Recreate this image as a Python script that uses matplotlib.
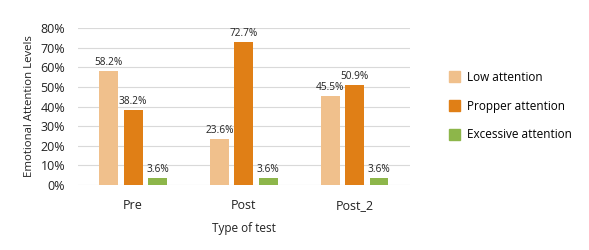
import numpy as np
from matplotlib import pyplot as plt
from matplotlib.patches import Patch

plt.rcParams['font.family'] = ['Open Sans', 'DejaVu Sans']

categories = ['Pre', 'Post', 'Post_2']
series_names = ['Low attention', 'Propper attention', 'Excessive attention']
low = [58.2, 23.6, 45.5]
proper = [38.2, 72.7, 50.9]
excessive = [3.6, 3.6, 3.6]
colors = ['#F0C08C', '#E07F16', '#8DB64A']

fig = plt.figure(figsize=(5.89, 2.5), dpi=100)
ax = fig.add_axes([0.132, 0.26, 0.564, 0.628])

x = np.arange(len(categories))
width = 0.17
offset = 0.22
for i, (vals, name) in enumerate(zip([low, proper, excessive], series_names)):
    pos = x + (i - 1) * offset
    bars = ax.bar(pos, vals, width, color=colors[i], label=name, zorder=3)
    for b, v in zip(bars, vals):
        ax.text(b.get_x() + b.get_width() / 2, v + 1.5, f'{v:.1f}%',
                ha='center', va='bottom', fontsize=7.3, color='#222222')

ax.set_xlim(-0.5, 2.5)
ax.set_ylim(0, 80)
ax.set_yticks(range(0, 81, 10))
ax.set_yticklabels([f'{t}%' for t in range(0, 81, 10)])
ax.set_xticks(x)
ax.set_xticklabels(categories)
ax.tick_params(axis='both', length=0, labelsize=9, colors='#222222')
ax.tick_params(axis='y', pad=9)
ax.tick_params(axis='x', pad=10)
ax.grid(axis='y', color='#D9D9D9', linewidth=0.8, zorder=0)
for s in ax.spines.values():
    s.set_visible(False)
ax.set_ylabel('Emotional Attention Levels', fontsize=8.2, color='#222222', labelpad=4)
ax.set_xlabel('Type of test', fontsize=8.5, color='#222222', labelpad=7)

handles = [Patch(color=c) for c in colors]
fig.legend(handles, series_names, loc='upper left', bbox_to_anchor=(0.745, 0.76),
           frameon=False, fontsize=8.5, handlelength=0.9, handleheight=1.0,
           labelspacing=1.35, handletextpad=0.6)

fig.savefig('out.png', dpi=100)
